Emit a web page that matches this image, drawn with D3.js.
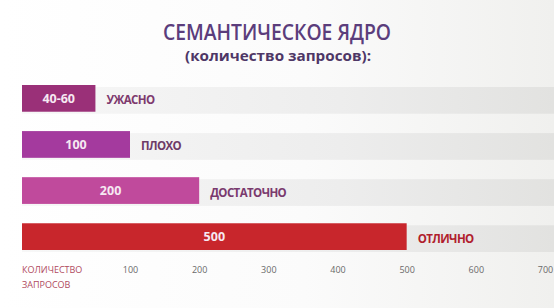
<!DOCTYPE html>
<html>
<head>
<meta charset="utf-8">
<script src="https://cdn.jsdelivr.net/npm/d3@7"></script>
<style>
  body { margin: 0; background: #fff; }
  svg { display: block; }
</style>
</head>
<body>
<div id="chart"></div>
<script>
// данные со слайда
const valueLabels = ["40-60", "100", "200", "500"];
const values = [50, 100, 200, 500];
const grades = ["УЖАСНО", "ПЛОХО", "ДОСТАТОЧНО", "ОТЛИЧНО"];
const barColors = ["#9a3078", "#a43a9e", "#c04a9c", "#c8262c"];
const gradeColors = ["#7e3a6e", "#6e3c68", "#7a3a6e", "#b0202c"];
const ticks = [100, 200, 300, 400, 500, 600, 700];

const width = 554, height = 308;
const left = 22;

const svg = d3.select("#chart").append("svg")
    .attr("width", width)
    .attr("height", height);

// фон слайда (немного серее справа)
const defs = svg.append("defs");
const bg = defs.append("linearGradient").attr("id", "bg").attr("x1", 0).attr("x2", 1);
bg.append("stop").attr("offset", "0%").attr("stop-color", "#ffffff");
bg.append("stop").attr("offset", "55%").attr("stop-color", "#fbfbfb");
bg.append("stop").attr("offset", "100%").attr("stop-color", "#f0f0ee");
const tr = defs.append("linearGradient").attr("id", "track").attr("x1", 0).attr("x2", 1);
tr.append("stop").attr("offset", "0%").attr("stop-color", "#f7f7f7");
tr.append("stop").attr("offset", "60%").attr("stop-color", "#ededed");
tr.append("stop").attr("offset", "100%").attr("stop-color", "#e2e2e0");

svg.append("rect").attr("width", width).attr("height", height).attr("fill", "url(#bg)");

// заголовок
svg.append("text")
    .attr("x", 163).attr("y", 40)
    .attr("textLength", 228)
    .attr("lengthAdjust", "spacingAndGlyphs")
    .style("font-family", "'Open Sans', sans-serif")
    .style("font-size", "21px")
    .style("font-weight", "600")
    .style("fill", "#5b3d7c")
    .text("СЕМАНТИЧЕСКОЕ ЯДРО");

svg.append("text")
    .attr("x", 185).attr("y", 61)
    .attr("textLength", 186)
    .attr("lengthAdjust", "spacingAndGlyphs")
    .style("font-family", "'Open Sans', sans-serif")
    .style("font-size", "15px")
    .style("font-weight", "700")
    .style("fill", "#4e3766")
    .text("(количество запросов):");

// шкалы
const x = d3.scaleLinear().domain([100, 700]).range([130, 545]);
const y = d3.scaleBand().domain(d3.range(values.length)).range([85, 250]).paddingInner(0.42).paddingOuter(0);

// серые дорожки
svg.append("g")
    .selectAll("rect")
    .data(values)
    .enter()
    .append("rect")
    .attr("x", left)
    .attr("y", (d, i) => y(i) + 2)
    .attr("width", width - left)
    .attr("height", y.bandwidth())
    .attr("fill", "url(#track)");

// столбцы
svg.append("g")
    .selectAll("rect")
    .data(values)
    .enter()
    .append("rect")
    .attr("x", left)
    .attr("y", (d, i) => y(i))
    .attr("width", d => x(d) - left)
    .attr("height", y.bandwidth())
    .attr("fill", (d, i) => barColors[i]);

// значения внутри столбцов
svg.append("g")
    .selectAll("text")
    .data(values)
    .enter()
    .append("text")
    .attr("x", d => (left + x(d)) / 2)
    .attr("y", (d, i) => y(i) + y.bandwidth() / 2)
    .attr("dy", "0.35em")
    .attr("text-anchor", "middle")
    .style("font-family", "'Open Sans', sans-serif")
    .style("font-size", "12.5px")
    .style("font-weight", "700")
    .style("fill", "#f6e8f2")
    .text((d, i) => valueLabels[i]);

// оценки справа от столбцов
svg.append("g")
    .selectAll("text")
    .data(values)
    .enter()
    .append("text")
    .attr("x", d => x(d) + 11)
    .attr("y", (d, i) => y(i) + y.bandwidth() / 2 + 2)
    .attr("dy", "0.35em")
    .style("font-family", "'Open Sans', sans-serif")
    .style("font-size", "11.5px")
    .style("font-weight", "700")
    .style("letter-spacing", "-0.6px")
    .style("fill", (d, i) => gradeColors[i])
    .text((d, i) => grades[i]);

// ось
const axis = svg.append("g")
    .attr("transform", "translate(0,270)")
    .call(d3.axisBottom(x).tickValues(ticks).tickSize(0).tickPadding(0));
axis.select(".domain").remove();
axis.selectAll("text")
    .attr("y", 0)
    .attr("dy", "0.35em")
    .style("font-family", "'Open Sans', sans-serif")
    .style("font-size", "9px")
    .style("fill", "#6a6a6a");

const axisTitle = svg.append("text")
    .attr("x", left)
    .attr("y", 270)
    .style("font-family", "'Open Sans', sans-serif")
    .style("font-size", "9px")
    .style("fill", "#b04a5e");
axisTitle.append("tspan").attr("x", left).attr("dy", "0.35em").text("КОЛИЧЕСТВО");
axisTitle.append("tspan").attr("x", left).attr("dy", "1.6em").text("ЗАПРОСОВ");
</script>
</body>
</html>
